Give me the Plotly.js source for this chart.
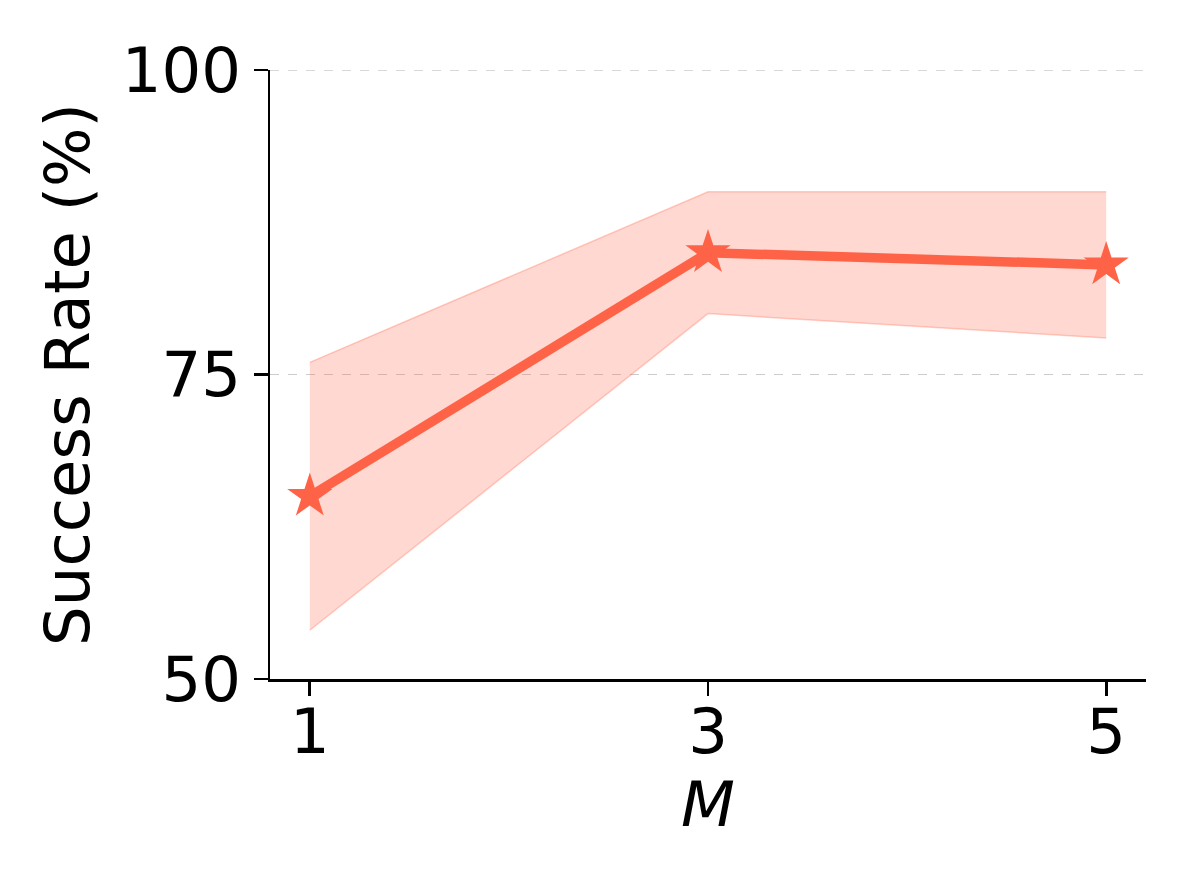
<!DOCTYPE html>
<html>
<head>
<meta charset="utf-8">
<script src="https://cdn.plot.ly/plotly-3.0.1.min.js"></script>
<style>html,body{margin:0;padding:0;background:#fff;}#chart{width:1191px;height:891px;}</style>
</head>
<body>
<div id="chart"></div>
<script>
const mValues = [1, 3, 5];
const meanRate = [65, 85, 84];
const upperRate = [76, 90, 90];
const lowerRate = [54, 80, 78];
const xTickLabels = ["1", "3", "5"];
const yTickValues = [50, 75, 100];

const lineColor = "#FF6347";
const fillColor = "rgba(255,99,71,0.25)";
const edgeColor = "rgba(255,99,71,0.3)";
const gridColor = "#cccccc";
const FS = 62.5;

const traces = [
  {
    x: mValues, y: upperRate, type: "scatter", mode: "lines",
    line: {color: edgeColor, width: 1.5}, hoverinfo: "skip", showlegend: false
  },
  {
    x: mValues, y: lowerRate, type: "scatter", mode: "lines",
    line: {color: edgeColor, width: 1.5}, fill: "tonexty", fillcolor: fillColor,
    hoverinfo: "skip", showlegend: false
  },
  {
    x: mValues, y: meanRate, type: "scatter", mode: "lines+markers",
    line: {color: lineColor, width: 9.5},
    marker: {symbol: "star", size: 34, color: lineColor, line: {width: 0}},
    showlegend: false
  }
];

// dashed gridline at the top tick (Plotly omits gridlines on the range edge)
const topTick = yTickValues[yTickValues.length - 1];
const shapes = [{
  type: "line", xref: "paper", x0: 0, x1: 1, yref: "y", y0: topTick, y1: topTick,
  line: {color: gridColor, width: 1.5, dash: "dash"}, layer: "below"
}];

const layout = {
  width: 1191, height: 891,
  paper_bgcolor: "#fff", plot_bgcolor: "#fff",
  margin: {l: 270, r: 45, t: 70, b: 212},
  showlegend: false,
  font: {family: "DejaVu Sans", color: "#000"},
  shapes: shapes,
  xaxis: {
    range: [0.8, 5.2],
    tickvals: mValues, ticktext: xTickLabels,
    ticks: "outside", ticklen: 14, tickwidth: 2.8, tickcolor: "#000",
    ticklabelstandoff: -18,
    showline: true, linecolor: "#000", linewidth: 2.5,
    showgrid: false, zeroline: false,
    tickfont: {family: "DejaVu Sans", size: FS, color: "#000"},
    title: {text: "<i>M</i>", font: {family: "DejaVu Sans", size: FS, color: "#000"}, standoff: 14}
  },
  yaxis: {
    range: [50, 100],
    tickvals: yTickValues, ticktext: yTickValues.map(String),
    ticks: "outside", ticklen: 14, tickwidth: 2.8, tickcolor: "#000",
    ticklabelstandoff: 0,
    showline: true, linecolor: "#000", linewidth: 2.5,
    showgrid: true, gridcolor: gridColor, gridwidth: 1.5, griddash: "dash",
    zeroline: false,
    tickfont: {family: "DejaVu Sans", size: FS, color: "#000"},
    title: {text: "Success Rate (%)", font: {family: "DejaVu Sans", size: FS, color: "#000"}, standoff: 12}
  }
};

Plotly.newPlot("chart", traces, layout, {displayModeBar: false, staticPlot: true});
</script>
</body>
</html>
